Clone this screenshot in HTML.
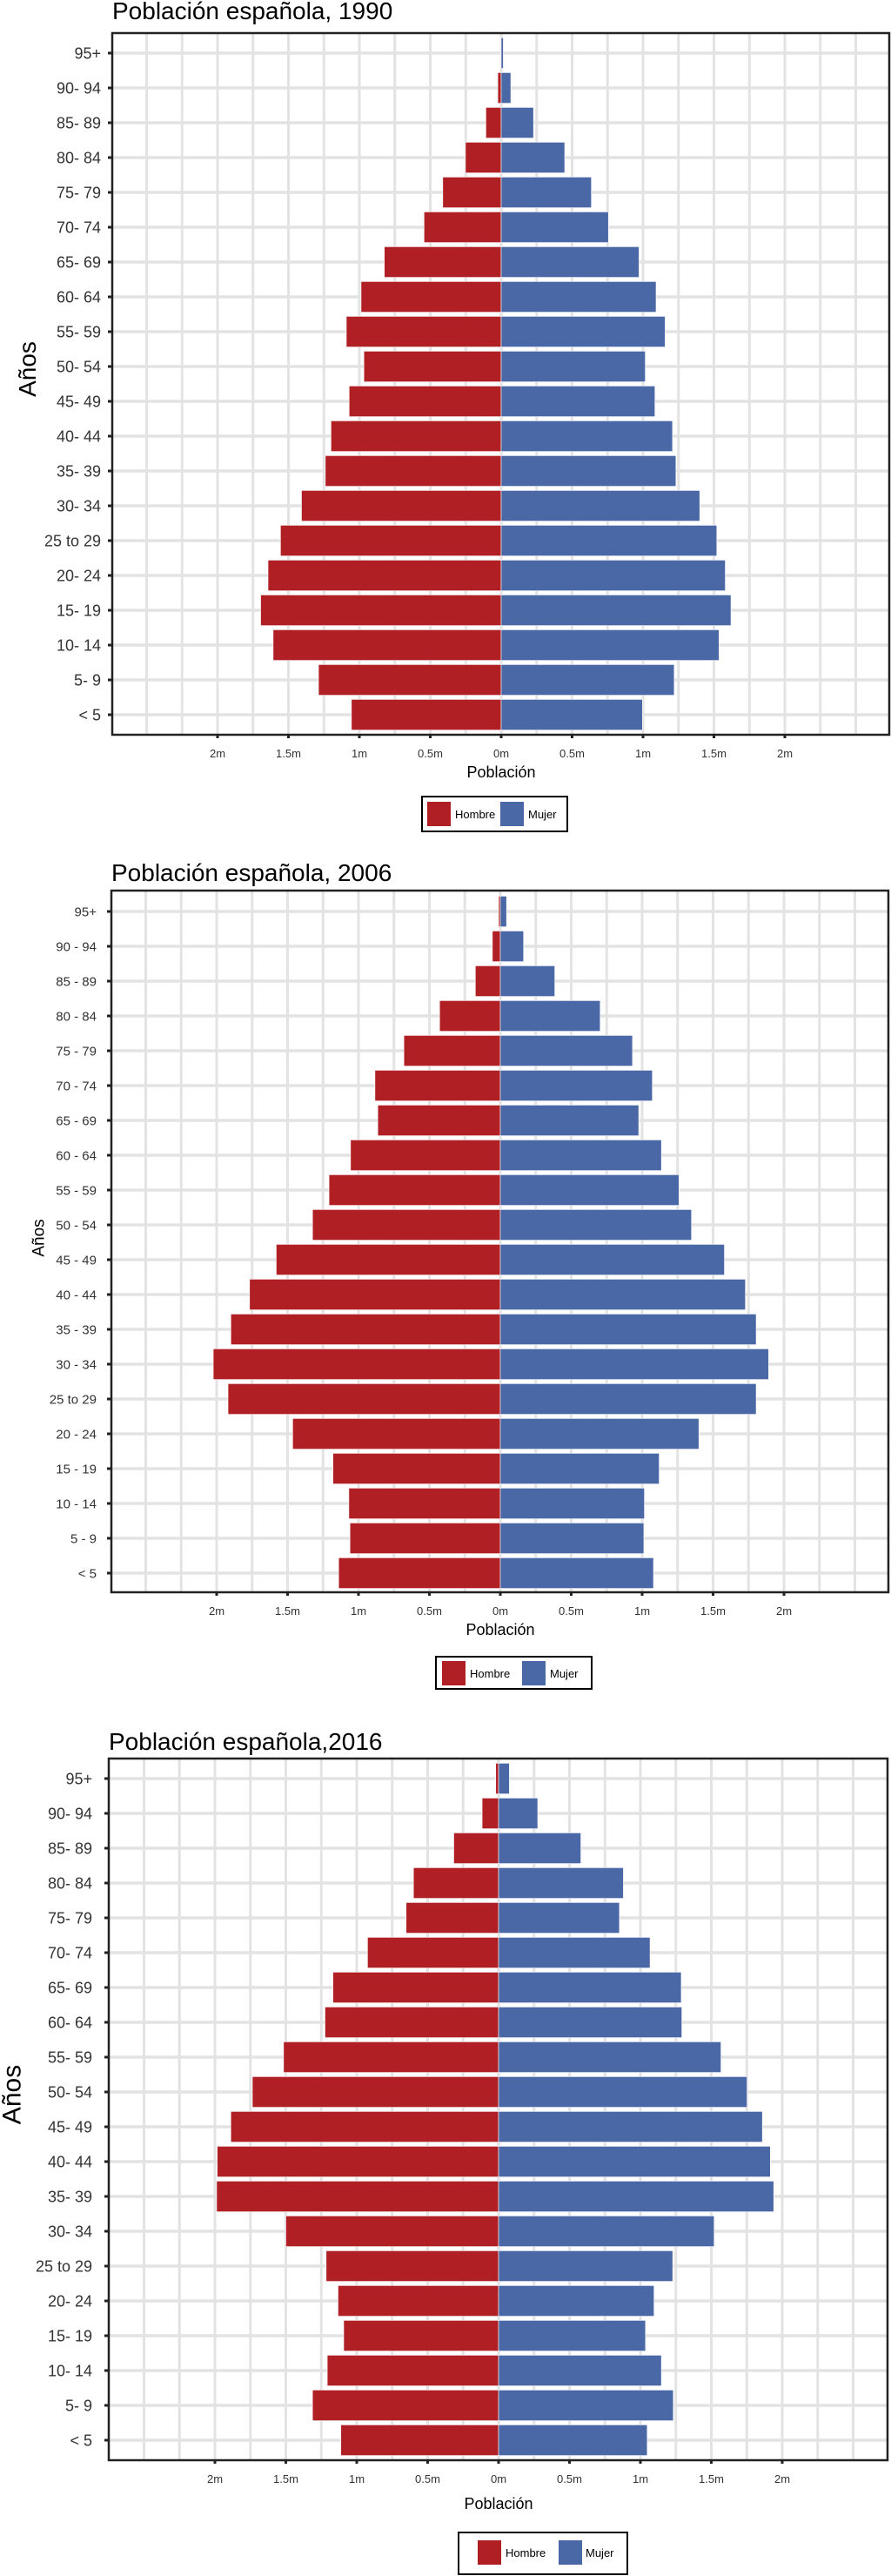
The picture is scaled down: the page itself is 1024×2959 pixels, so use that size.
<!DOCTYPE html>
<html><head><meta charset="utf-8">
<style>
html,body{margin:0;padding:0;background:#fff;}
body{width:1024px;height:2959px;overflow:hidden;position:relative;font-family:"Liberation Sans",sans-serif;}
svg{position:absolute;left:0;top:0;}
</style></head>
<body>
<svg id="root" width="1024" height="2959" viewBox="0 0 1024 2959"></svg>
<script>
const categories = ["95+","90-94","85-89","80-84","75-79","70-74","65-69","60-64","55-59","50-54","45-49","40-44","35-39","30-34","25 to 29","20-24","15-19","10-14","5-9","<5"];
const hombre1990 = [0.005,0.024,0.108,0.252,0.412,0.544,0.824,0.988,1.092,0.968,1.072,1.2,1.24,1.408,1.556,1.644,1.696,1.608,1.288,1.056];
const mujer1990  = [0.015,0.068,0.228,0.448,0.636,0.756,0.972,1.092,1.156,1.016,1.084,1.208,1.232,1.4,1.52,1.58,1.62,1.536,1.22,0.996];
const hombre2006 = [0.012,0.056,0.176,0.428,0.68,0.884,0.864,1.056,1.208,1.324,1.58,1.768,1.9,2.024,1.92,1.464,1.18,1.068,1.06,1.14];
const mujer2006  = [0.044,0.164,0.384,0.704,0.932,1.072,0.976,1.136,1.26,1.348,1.58,1.728,1.804,1.892,1.804,1.4,1.12,1.016,1.012,1.08];
const hombre2016 = [0.02,0.116,0.316,0.6,0.652,0.924,1.168,1.224,1.516,1.736,1.888,1.984,1.988,1.5,1.216,1.132,1.092,1.208,1.312,1.112];
const mujer2016  = [0.076,0.276,0.58,0.88,0.852,1.068,1.288,1.292,1.568,1.752,1.86,1.916,1.94,1.52,1.228,1.096,1.036,1.148,1.232,1.048];
const xTickValues = [-2,-1.5,-1,-0.5,0,0.5,1,1.5,2];
const xTickLabels = ["2m","1.5m","1m","0.5m","0m","0.5m","1m","1.5m","2m"];
const titles = ["Población española, 1990","Población española, 2006","Población española,2016"];

const NS="http://www.w3.org/2000/svg";
const root=document.getElementById('root');
function mk(tag,attrs,parent,text){const e=document.createElementNS(NS,tag);for(const k in attrs)e.setAttribute(k,attrs[k]);if(text!==undefined)e.textContent=text;(parent||root).appendChild(e);return e;}

const layouts=[
 {id:'1990',H:hombre1990,M:mujer1990,L:129,R:1022,T:38,B:844,zero:576,y0:61,y1:821,titleY:22,lblR:116,lblSize:18,sep:'- ',tickY:865,xtY:887,aY:424,aX:31,aSize:28,
  leg:{x:485,y:915,w:167,h:40,rk:491,bk:575,ht:523,mt:607,ky:921,kh:28}},
 {id:'2006',H:hombre2006,M:mujer2006,L:128,R:1021,T:1023,B:1829,zero:575,y0:1047,y1:1807,titleY:1012,lblR:111,lblSize:15,sep:' - ',tickY:1850,xtY:1872,aY:1422,aX:44,aSize:19,
  leg:{x:501,y:1903,w:179,h:37,rk:508,bk:600,ht:540,mt:632,ky:1908,kh:28}},
 {id:'2016',H:hombre2016,M:mujer2016,L:125,R:1020,T:2020,B:2826,zero:573,y0:2043,y1:2803,titleY:2010,lblR:106,lblSize:18,sep:'- ',tickY:2847,xtY:2876,aY:2406,aX:13,aSize:30,
  leg:{x:527,y:2909,w:194,h:48,rk:549,bk:642,ht:581,mt:673,ky:2918,kh:28}}
];
const PX_PER_M=163;

layouts.forEach((c,ci)=>{
  const g=mk('g',{});
  
  
  const xs=v=>c.zero+v*PX_PER_M;
  const step=(c.y1-c.y0)/(categories.length-1);
  const ys=i=>c.y0+i*step;
  const bh=step*0.88;
  const gg=mk('g',{},g);
  
  
  for(let v=-2.75;v<=2.76;v+=0.25){const x=xs(v);if(x>c.L&&x<c.R)mk('line',{x1:x,x2:x,y1:c.T,y2:c.B,stroke:'#e3e3e3','stroke-width':3},gg);}
  categories.forEach((cat,i)=>mk('line',{x1:c.L,x2:c.R,y1:ys(i),y2:ys(i),stroke:'#e3e3e3','stroke-width':3.5},gg));
  categories.forEach((cat,i)=>{
    const h=c.H[i],m=c.M[i];
    const rb=mk('rect',{x:xs(-h),y:ys(i)-bh/2,width:xs(0)-xs(-h),height:bh,fill:'#b01f24',stroke:'#fff','stroke-width':0.6},g);
    
    
    const mb=mk('rect',{x:xs(0),y:ys(i)-bh/2,width:xs(m)-xs(0),height:bh,fill:'#4a67a6',stroke:'#fff','stroke-width':0.6},g);
    
    
    mk('line',{x1:c.L-5,x2:c.L,y1:ys(i),y2:ys(i),stroke:'#222','stroke-width':3},g);
    const lbl=cat==='<5'?'< 5':(cat==='95+'?'95+':cat.replace('-',c.sep));
    const t=mk('text',{x:c.lblR,y:ys(i)+c.lblSize*0.35,'text-anchor':'end','font-size':c.lblSize,fill:'#333'},g,lbl);
    
    
  });
  const pb=mk('rect',{x:c.L,y:c.T,width:c.R-c.L,height:c.B-c.T,fill:'none',stroke:'#222','stroke-width':2.5},g);
  
  
  xTickValues.forEach((v,k)=>{
    mk('line',{x1:xs(v),x2:xs(v),y1:c.B,y2:c.B+4,stroke:'#222','stroke-width':3},g);
    const t=mk('text',{x:xs(v),y:c.tickY+5,'text-anchor':'middle','font-size':13,fill:'#333'},g,xTickLabels[k]);
    
    
  });
  const xt=mk('text',{x:xs(0),y:c.xtY+6,'text-anchor':'middle','font-size':18,fill:'#000'},g,'Población');
  
  
  const yt=mk('text',{x:0,y:0,'text-anchor':'middle','font-size':c.aSize,fill:'#000',transform:'translate('+(c.aX+c.aSize*0.35)+','+c.aY+') rotate(-90)'},g,'Años');
  
  
  const tt=mk('text',{x:c.L,y:c.titleY,'font-size':28,fill:'#000'},g,titles[ci]);
  
  
  const lg=c.leg;
  const lgG=mk('g',{},g);
  
  
  mk('rect',{x:lg.x,y:lg.y,width:lg.w,height:lg.h,fill:'#fff',stroke:'#000','stroke-width':2},lgG);
  const k1=mk('rect',{x:lg.rk,y:lg.ky,width:27,height:lg.kh,fill:'#b01f24'},lgG);
  
  
  mk('text',{x:lg.ht,y:lg.ky+lg.kh/2+5,'font-size':13,fill:'#000'},lgG,'Hombre');
  const k2=mk('rect',{x:lg.bk,y:lg.ky,width:27,height:lg.kh,fill:'#4a67a6'},lgG);
  
  
  mk('text',{x:lg.mt,y:lg.ky+lg.kh/2+5,'font-size':13,fill:'#000'},lgG,'Mujer');
});
</script>
</body></html>
